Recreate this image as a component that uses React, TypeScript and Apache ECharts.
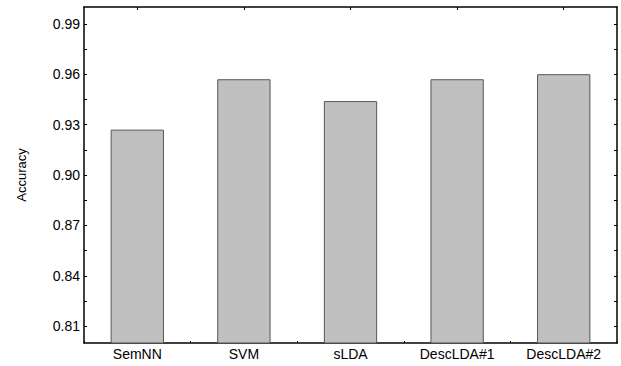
import React, { useEffect, useRef } from "react";
import * as echarts from "echarts";

const categories = ["SemNN", "SVM", "sLDA", "DescLDA#1", "DescLDA#2"];
const accuracy = [0.927, 0.957, 0.944, 0.957, 0.96];
const yLabelValues = [0.81, 0.84, 0.87, 0.9, 0.93, 0.96, 0.99];
const yTickValues = [0.81, 0.825, 0.84, 0.855, 0.87, 0.885, 0.9, 0.915, 0.93, 0.945, 0.96, 0.975, 0.99];
const yMin = 0.8;
const yMax = 1.0;

const FONT = "'Liberation Sans', Arial, sans-serif";

export default function App() {
  const ref = useRef<HTMLDivElement>(null);
  useEffect(() => {
    if (!ref.current) return;
    const chart = echarts.init(ref.current, undefined, { renderer: "svg" });
    const lineStyle = { color: "#000", width: 1.5 };
    chart.setOption({
      animation: false,
      backgroundColor: "#fff",
      grid: { left: 84, top: 7, right: 4, bottom: 23, show: false },
      xAxis: [
        {
          type: "category",
          data: categories,
          position: "bottom",
          axisLine: { show: true, lineStyle },
          axisTick: { show: true, inside: true, length: 2, lineStyle: { color: "#000", width: 1 } },
          axisLabel: { color: "#000", fontSize: 14, fontFamily: FONT, margin: 4, interval: 0 },
          splitLine: { show: false },
        },
        {
          type: "category",
          data: categories,
          position: "top",
          axisLine: { show: true, lineStyle },
          axisTick: { show: true, inside: true, length: 3, alignWithLabel: true, lineStyle: { color: "#000", width: 1 } },
          axisLabel: { show: false },
          splitLine: { show: false },
        },
      ],
      yAxis: [
        {
          type: "value",
          position: "left",
          min: yMin,
          max: yMax,
          name: "Accuracy",
          nameLocation: "middle",
          nameGap: 56,
          nameTextStyle: { color: "#000", fontSize: 13, fontFamily: FONT },
          axisLine: { show: true, lineStyle },
          axisTick: { show: true, inside: true, length: 3, lineStyle: { color: "#000", width: 1 }, customValues: yTickValues },
          axisLabel: {
            color: "#000",
            fontSize: 14,
            fontFamily: FONT,
            margin: 4,
            customValues: yLabelValues,
            formatter: (v: number) => v.toFixed(2),
          },
          splitLine: { show: false },
        },
        {
          type: "value",
          position: "right",
          min: yMin,
          max: yMax,
          axisLine: { show: true, lineStyle },
          axisTick: { show: true, inside: true, length: 3, lineStyle: { color: "#000", width: 1 }, customValues: yTickValues },
          axisLabel: { show: false, customValues: yLabelValues },
          splitLine: { show: false },
        },
      ],
      series: [
        {
          type: "bar",
          data: accuracy,
          xAxisIndex: 0,
          yAxisIndex: 0,
          barWidth: "50%",
          itemStyle: { color: "#c0c0c0", borderColor: "#555", borderWidth: 1 },
        },
      ],
    });
    return () => chart.dispose();
  }, []);
  return <div ref={ref} style={{ width: 621, height: 366, position: "absolute", left: 0, top: 0 }} />;
}
